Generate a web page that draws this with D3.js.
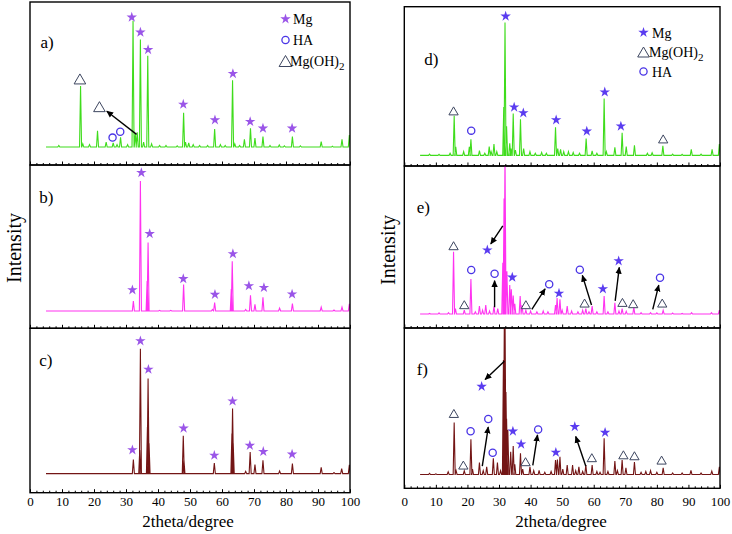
<!DOCTYPE html>
<html><head><meta charset="utf-8">
<script src="https://cdn.jsdelivr.net/npm/d3@7"></script>
<style>body{margin:0;background:#fff} svg{display:block}</style>
</head><body>
<script>
// ---------- DATA ----------
const xTickValues = [0,10,20,30,40,50,60,70,80,90,100];
const xTitle = "2theta/degree";
const yTitle = "Intensity";
const panelLabels = ["a)","b)","c)","d)","e)","f)"];
const legendLeft = [["star","Mg"],["circle","HA"],["tri","Mg(OH)","2"]];
const legendRight = [["star","Mg"],["tri","Mg(OH)","2"],["circle","HA"]];

// baselines (relative intensity, 0-100 per panel)
const baseA = 11, baseB = 10.6, baseC = 11.6, baseD = 6.7, baseE = 8.6, baseF = 8.6;

// peaks: [2theta, relative intensity]
const peaksA = [[9,12],[15.8,48.5],[16.5,13],[18.6,12.5],[21.1,21],[23.8,14],[26,13.5],[27.2,12.5],[28.3,17],[30.5,12.5],[32.2,88.5],[32.9,19],[33.5,20],[34.5,77],[35.5,14],[36.8,67],[38,13],[40.5,12],[42.5,12],[46,11.8],[48,32],[48.6,14],[49.6,13.5],[51,12.5],[53,12],[55.5,12],[57.7,22],[59.5,12.5],[61,12],[63.3,52],[64,13],[65.5,12],[67,15.8],[68.9,22.5],[70.3,16.5],[72.8,17.4],[75,12],[77.9,12.3],[79.5,11.8],[82,17.4],[84.5,11.8],[91,14.3],[94.5,11.5],[97.5,15.8],[99.8,18.4]];
const peaksB = [[32.3,16.7],[34.5,90.2],[36.6,29],[36.9,52.6],[40.5,11],[44,11],[48,26.8],[57,11.5],[57.7,15.8],[62.9,24],[63.2,41.1],[67.4,11.5],[68.9,20.2],[70.3,14.7],[72.8,19],[78,12.4],[82,15.1],[91,13],[95,11.2],[97.5,13],[99.8,15]];
const peaksC = [[32.3,20.1],[34.3,26],[34.5,87.6],[36.7,40],[36.9,69.5],[37.2,30],[47.9,34.6],[48.1,20],[57.6,18.1],[63.1,36],[63.3,51.2],[63.5,30],[67.4,13],[68.8,24.8],[70.3,17.1],[72.8,19.7],[78,13.2],[82,17.7],[91,15.4],[95,12.3],[97.4,14.6],[99.8,16.9]];
const peaksD = [[8,7.5],[11,7.3],[14.5,8],[15.8,31.6],[16.3,12],[18.8,9],[20.6,12],[21.1,16.8],[23.8,9.6],[25.5,8],[26.9,12.2],[27.5,9],[28.4,13.8],[29.3,9],[31.5,37],[31.9,90.1],[32.4,25],[33.4,14.3],[33.8,11],[34.5,33],[35.2,10],[36.8,29.4],[37.8,11],[39.8,9],[41.5,8],[43.5,8.5],[45,8],[47.9,24.3],[48.6,11],[49.5,10.5],[50.5,9],[52,9],[53.5,8.5],[55.5,8],[57.6,17.2],[59.5,9.5],[61,8],[63.3,42.3],[64,9],[66.7,11.8],[69,20.9],[70.3,12.2],[72.9,13],[77,8],[78.5,8.3],[81.9,12.6],[85,7.5],[88,7.3],[90.9,10.5],[94,7.5],[97.5,10.5],[99.8,13.8]];
const peaksE = [[8,9],[11,9.3],[14,9.5],[15.6,47.1],[16.2,12],[19,11.1],[21.1,30.2],[22.5,10],[23.8,13.6],[24.8,11],[25.8,14.2],[27,10.5],[28.4,13.2],[29.6,11.9],[31.2,40.3],[31.6,80],[31.9,110],[32.5,35],[33.4,26.5],[33.9,23.9],[34.5,20],[35,15],[36.7,19.8],[37.3,14],[38.5,11],[40,10.5],[42,10],[44,10.5],[45.5,10],[47.9,14.2],[48.4,18.5],[49.3,17.7],[50,11],[51.6,13.6],[53,10.5],[55,10],[56.5,11],[57.5,11.9],[58.5,10],[59.5,13.6],[61,10],[63.3,19.8],[64.5,10],[66.7,15.6],[68,10.5],[69,11.9],[70.3,10.3],[72.7,12.7],[75,9.5],[78,9.5],[80,9.3],[82,10.9],[85,9.2],[88,9],[91,9.5],[97.3,9.5],[99.8,11.1]];
const peaksF = [[8,9.3],[10,9],[13.9,10.3],[15.8,41.1],[16.4,11],[19,10.9],[21.1,30.6],[21.6,12],[23.8,16.1],[25,11],[26.1,13.4],[28.2,18.7],[29.5,16.1],[30.5,11],[31.4,80],[31.7,110],[31.9,110],[32.2,60],[32.4,43.4],[32.8,36.5],[33.7,22.8],[34.5,26.4],[35,15],[36.8,21.8],[37.5,12],[39.8,13.4],[41,11],[42.7,11.1],[44.5,10],[46.5,10.5],[47.9,17.6],[48.5,18],[49.3,19.7],[50.2,12],[51.6,14.5],[53.3,14.5],[54.3,11],[55.3,13.4],[56.5,10.5],[57.5,14.5],[59.5,14.5],[61,10.5],[62,10],[63.3,31.2],[64.5,10.5],[66.7,17],[67.5,11],[69,17.6],[70.2,12.7],[72.9,16.4],[75,10],[76.5,10.5],[78,11],[80,10],[82,12.7],[85,9.5],[88,9.5],[90.8,11.1],[94,9.5],[97.4,10.7],[99.8,13.4]];

// phase markers: [2theta, relative intensity]
const starsA = [[31.8,90.6],[34.5,81.4],[36.9,70.7],[47.9,37.2],[57.8,27.6],[63.4,56],[68.8,26.6],[72.8,22.5],[81.9,22.5]];
const circlesA = [[25.8,16.8],[28.2,20.4]];
const trisA = [[15.6,52.8],[21.7,35.8]];
const arrowsA = [[33.3,18.8,24,33]];
const starsB = [[32,23.5],[34.8,95.3],[37.4,57.9],[47.9,30.3],[57.8,20.7],[63.4,45.6],[68.4,26],[73.1,24.9],[81.9,20.9]];
const starsC = [[32,26],[34.5,92.3],[37,75],[48,39.2],[57.6,22.7],[63.3,55.7],[68.7,28.7],[72.9,25],[81.9,23.4]];
const starsD = [[32.1,94],[34.8,36.9],[37.7,33.3],[48.1,28.9],[57.8,21.8],[63.5,46.4],[68.6,25]];
const circlesD = [[21.2,22.2]];
const trisD = [[15.6,34.6],[82,17]];
const starsE = [[26.3,48.1],[34.2,31.3],[49,21.4],[62.9,24.1],[67.9,41.4]];
const circlesE = [[21.2,35.8],[28.6,33.5],[45.9,27],[55.6,36],[81,31]];
const trisE = [[15.6,50.8],[19,14.4],[38.5,14.4],[57.1,15.4],[69.1,15.8],[72.5,15],[81.7,15.4]];
const arrowsE = [[31.2,63,27.4,51.9],[28.6,12.8,28.6,29.2],[40.4,11.5,44.6,24.1],[59.3,14.2,56.4,32.5],[66.8,16.7,68.1,37.4],[78.7,11.5,80.6,26.5]];
const starsF = [[24.5,63.5],[34.4,35.6],[37,27.5],[48,22.4],[54,38.4],[63.6,34.8]];
const circlesF = [[21,35.6],[26.6,43.2],[28,22.2],[42.4,36.7]];
const trisF = [[15.7,46.7],[18.7,14.5],[38.4,16.6],[59.4,19.1],[69.4,20.9],[72.9,20.3],[81.5,17.6]];
const arrowsF = [[31.7,79.2,25.6,67.9],[24.7,13.8,26.6,38.2],[40.7,14.3,42.2,33.3],[57.5,13.8,54.3,32.3]];

// ---------- LAYOUT ----------
const W = 732, H = 534;
const FONT = "'Times New Roman', 'Liberation Serif', serif";
const green = "#3fdc1c", magenta = "#ff33f0", maroon = "#731515";
const starL = "#9a55e8", starR = "#5a3cf0", circ = "#4a35e6", triStroke = "#3d4660";
const leftCol = {x0:30, x1:350}, rightCol = {x0:404.3, x1:720};
const panels = [
  {col:leftCol, top:2, bottom:165, peaks:peaksA, base:baseA, color:green, label:panelLabels[0], lx:40.5, ly:48, stars:starsA, circles:circlesA, tris:trisA, arrows:arrowsA, sc:starL, ts:10},
  {col:leftCol, top:165, bottom:328.3, peaks:peaksB, base:baseB, color:magenta, label:panelLabels[1], lx:39.3, ly:202.7, stars:starsB, circles:[], tris:[], arrows:[], sc:starL, ts:10},
  {col:leftCol, top:328.3, bottom:492.7, peaks:peaksC, base:baseC, color:maroon, label:panelLabels[2], lx:39.3, ly:366, stars:starsC, circles:[], tris:[], arrows:[], sc:starL, ts:10},
  {col:rightCol, top:6.7, bottom:166, peaks:peaksD, base:baseD, color:green, label:panelLabels[3], lx:424.3, ly:65, stars:starsD, circles:circlesD, tris:trisD, arrows:[], sc:starR, ts:8},
  {col:rightCol, top:166, bottom:328, peaks:peaksE, base:baseE, color:magenta, label:panelLabels[4], lx:416.7, ly:212.7, stars:starsE, circles:circlesE, tris:trisE, arrows:arrowsE, sc:starR, ts:8},
  {col:rightCol, top:328, bottom:488.3, peaks:peaksF, base:baseF, color:maroon, label:panelLabels[5], lx:416.7, ly:375, stars:starsF, circles:circlesF, tris:trisF, arrows:arrowsF, sc:starR, ts:8}
];

const svg = d3.select("body").append("svg").attr("width", W).attr("height", H).attr("font-family", FONT);
const defs = svg.append("defs");
defs.append("marker").attr("id","ah").attr("viewBox","0 0 10 10").attr("refX",9).attr("refY",5)
  .attr("markerWidth",7).attr("markerHeight",7).attr("markerUnits","userSpaceOnUse").attr("orient","auto")
  .append("path").attr("d","M0,0.5 L10,5 L0,9.5 Z").attr("fill","#000");

const starPath = d3.symbol().type(d3.symbolStar).size(34)();
const triPath = s => `M0,${-s*0.5} L${s*0.58},${s*0.5} L${-s*0.58},${s*0.5} Z`;
const halfW = 0.32;

panels.forEach((p, i) => {
  const x = d3.scaleLinear().domain([0,100]).range([p.col.x0, p.col.x1]);
  const y = d3.scaleLinear().domain([0,100]).range([p.bottom, p.top]);
  const g = svg.append("g");
  const cid = "clip"+i;
  defs.append("clipPath").attr("id",cid).append("rect")
    .attr("x", p.col.x0).attr("y", p.top).attr("width", p.col.x1-p.col.x0).attr("height", p.bottom-p.top);

  // spectrum
  const pts = [[5, p.base]];
  p.peaks.slice().sort((a,b)=>a[0]-b[0]).forEach(([pos,h]) => {
    pts.push([pos-halfW, p.base],[pos, h],[pos+halfW, p.base]);
  });
  pts.push([100.5, p.base]);
  g.append("path").attr("clip-path",`url(#${cid})`)
    .attr("d", d3.line().x(d=>x(d[0])).y(d=>y(d[1]))(pts))
    .attr("fill","none").attr("stroke",p.color).attr("stroke-width",1.1).attr("stroke-linejoin","miter");

  // frame
  g.append("rect").attr("x",p.col.x0).attr("y",p.top).attr("width",p.col.x1-p.col.x0).attr("height",p.bottom-p.top)
    .attr("fill","none").attr("stroke","#000").attr("stroke-width",1.4);

  // inward ticks on bottom edge
  const ax = d3.axisBottom(x).tickValues(d3.range(0,101,2)).tickSizeInner(0).tickSizeOuter(0).tickFormat("");
  const axg = g.append("g").attr("transform",`translate(0,${p.bottom})`).call(ax);
  axg.select(".domain").remove();
  axg.selectAll(".tick line").attr("y2", d => d%10===0 ? -3.5 : -2).attr("stroke","#000").attr("stroke-width",1);

  // tick labels on bottom panels
  if (i===2 || i===5) {
    const lab = d3.axisBottom(x).tickValues(xTickValues).tickSize(0).tickPadding(0).tickFormat(d3.format("d"));
    const lg = svg.append("g").attr("transform",`translate(0,${p.bottom})`).call(lab)
      .attr("font-family", FONT).attr("font-size", 13);
    lg.select(".domain").remove();
    lg.selectAll(".tick text").attr("y", 0).attr("dy", i===2 ? 13.5 : 17.5).attr("fill","#000");
    svg.append("text").attr("x", (p.col.x0+p.col.x1)/2 + (i===2?-2:-1)).attr("y", 527).attr("text-anchor","middle")
      .attr("font-size",17).text(xTitle);
  }

  // label
  g.append("text").attr("x",p.lx).attr("y",p.ly).attr("font-size",17).text(p.label);

  // arrows
  p.arrows.forEach(a => {
    g.append("line").attr("x1",x(a[0])).attr("y1",y(a[1])).attr("x2",x(a[2])).attr("y2",y(a[3]))
      .attr("stroke","#000").attr("stroke-width",1.4).attr("marker-end","url(#ah)");
  });
  // markers
  p.stars.forEach(s => g.append("path").attr("d",starPath).attr("transform",`translate(${x(s[0])},${y(s[1])})`).attr("fill",p.sc));
  p.circles.forEach(c => g.append("circle").attr("cx",x(c[0])).attr("cy",y(c[1])).attr("r",3.6)
    .attr("fill","#fff").attr("stroke",circ).attr("stroke-width",1.3));
  p.tris.forEach(t => g.append("path").attr("d",triPath(p.ts)).attr("transform",`translate(${x(t[0])},${y(t[1])})`)
    .attr("fill","#fff").attr("stroke",triStroke).attr("stroke-width",1));
});

// y titles
[[14,248],[388,250]].forEach(([cx,cy]) => {
  svg.append("text").attr("transform",`translate(${cx+7},${cy}) rotate(-90)`).attr("text-anchor","middle")
    .attr("font-size",20).text(yTitle);
});

// legends
function legend(items, sx, sy, tx, dy, sc, ts) {
  items.forEach((it, k) => {
    const yy = sy + k*dy;
    if (it[0]==="star") svg.append("path").attr("d",starPath).attr("transform",`translate(${sx},${yy})`).attr("fill",sc);
    if (it[0]==="circle") svg.append("circle").attr("cx",sx).attr("cy",yy).attr("r",3.6).attr("fill","#fff").attr("stroke",circ).attr("stroke-width",1.3);
    if (it[0]==="tri") svg.append("path").attr("d",triPath(ts)).attr("transform",`translate(${sx},${yy})`).attr("fill","#fff").attr("stroke",triStroke).attr("stroke-width",1);
    const t = svg.append("text").attr("x", it[0]==="tri" ? tx-3 : tx).attr("y", yy+5).attr("font-size",14).text(it[1]);
    if (it[2]) t.append("tspan").attr("dy",4).attr("font-size",11).text(it[2]);
  });
}
legend(legendLeft, 285.5, 19, 293, 21, starL, 11);
legend(legendRight, 643.5, 32.5, 652, 19.5, starR, 10);
</script>
</body></html>
